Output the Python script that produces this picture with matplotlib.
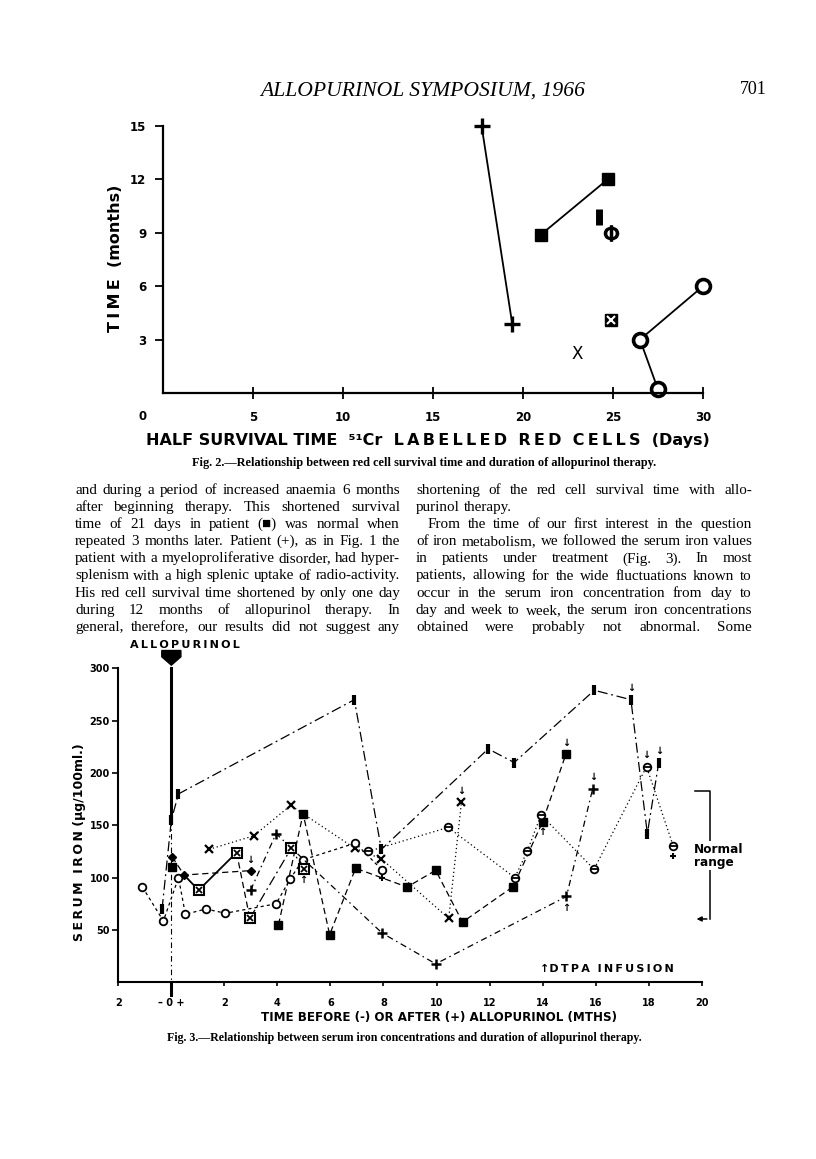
import matplotlib
matplotlib.use('Agg')
import matplotlib.pyplot as plt
from matplotlib.patches import Polygon

W, H = 816, 1159
fig = plt.figure(figsize=(W / 100, H / 100), dpi=100)
plt.rcParams['font.family'] = ['DejaVu Sans']

SERIF = 'Liberation Serif'
HEAVY = dict(family='DejaVu Sans', weight='bold')
T = '\u2009'  # thin space for letter spacing


def spaced(word):
    return T.join(word)


# ---------------- Fig. 2 data (days, months) ----------------
plus_days = [17.7, 19.4]
plus_months = [15.0, 3.9]
sq_days = [21.0, 24.7]
sq_months = [8.9, 12.0]
ring_days = [30.0, 26.5, 27.5]
ring_months = [6.0, 3.0, 0.2]
bar_day, bar_month = 24.2, 9.9
phi_day, phi_month = 24.9, 9.0
boxed_day, boxed_month = 24.9, 4.1
cross_day, cross_month = 23.0, 2.2
fig2_xticks = [5, 10, 15, 20, 25, 30]
fig2_yticks = [3, 6, 9, 12, 15]

# ---------------- Fig. 3 data (months, serum iron) ----------------
bar_x = [-0.35, 0, 0.27, 6.9, 7.92, 11.95, 12.93, 15.95, 17.33, 17.95, 18.38]
bar_y = [70, 155, 180, 270, 127, 223, 210, 279, 270, 142, 210]
sq_x = [4.04, 4.97, 5.97, 6.95, 8.89, 9.97, 10.98, 12.89, 14.0, 14.88]
sq_y = [55, 161, 45.5, 109, 91, 107, 57.5, 91.4, 153.4, 218]
cross_x = [1.42, 3.11, 4.5, 6.92, 7.92, 10.46, 10.94]
cross_y = [127, 140, 169, 128, 118, 61, 172]
ring_x = [-1.09, -0.3, 0.27, 0.53, 1.3, 2.04, 3.95, 4.48, 4.96, 6.94, 7.96]
ring_y = [91, 58.6, 100, 65, 70, 66, 75, 98.7, 117, 133, 107]
theta_x = [7.42, 10.44, 12.95, 13.42, 13.94, 15.94, 17.92, 18.93]
theta_y = [125, 148, 100, 125, 160, 108, 206, 130]
plus_x = [2.99, 3.95, 7.95, 9.97, 14.9, 15.89]
plus_y = [88, 142, 47, 17.6, 82, 185]
boxed_x = [0.48, 1.03, 2.46, 2.96, 4.52, 4.99]
boxed_y = [102.5, 88, 124, 61, 128, 108]
dia_x = [0.03, 0.48, 2.99]
dia_y = [120, 102.5, 106.7]
lone_sq = (0.03, 110)
down_x = [2.99, 10.94, 14.88, 15.89, 17.33, 17.92, 18.38]
down_y = [117, 183, 229, 196, 281, 217, 221]
up_x = [4.99, 14.0, 14.9]
up_y = [98, 144, 71]
small_plus_x = [7.96, 18.93]
small_plus_y = [100, 121]
normal_low, normal_high = 60.5, 183
fig3_xticks = [-2, 0, 2, 4, 6, 8, 10, 12, 14, 16, 18, 20]
fig3_xlabels = ['2', '\u2013 0 +', '2', '4', '6', '8', '10', '12', '14', '16', '18', '20']
fig3_yticks = [50, 100, 150, 200, 250, 300]


def box(l, t, r, b):
    return [l / W, 1 - b / H, (r - l) / W, (b - t) / H]


def fx(px):
    return px / W


def fy(py):
    return 1 - py / H


# ---------------- page header ----------------
fig.text(fx(423), fy(91), 'ALLOPURINOL SYMPOSIUM, 1966', family=SERIF, style='italic',
         fontsize=15.6, ha='center', va='center')
fig.text(fx(753), fy(90), '701', family=SERIF, fontsize=13, ha='center', va='center')

# ---------------- Fig. 2 ----------------
ax2 = fig.add_axes(box(163, 126, 703, 393))
ax2.set_xlim(0, 30)
ax2.set_ylim(0, 15)
for s in ['top', 'right']:
    ax2.spines[s].set_visible(False)
for s in ['left', 'bottom']:
    ax2.spines[s].set_linewidth(1.6)
ax2.set_xticks(fig2_xticks)
ax2.set_yticks(fig2_yticks)
ax2.tick_params(axis='x', direction='inout', length=8, width=1.3, pad=9, labelsize=8.5)
ax2.tick_params(axis='y', direction='out', length=6, width=1.3, pad=6, labelsize=8.5)
for lab in ax2.get_xticklabels() + ax2.get_yticklabels():
    lab.set_fontweight('bold')
fig.text(fx(143), fy(417), '0', fontsize=8.5, weight='bold', ha='center', va='center')

kw = dict(color='black', clip_on=False)
ax2.plot(plus_days, plus_months, lw=1.3, marker='+', ms=11, mew=2.4, **kw)
ax2.plot(sq_days, sq_months, lw=1.3, marker='s', ms=9, **kw)
ax2.plot(ring_days, ring_months, lw=1.3, marker='o', ms=10, mfc='white', mew=2.6, **kw)
ax2.plot([bar_day], [bar_month], marker='|', ms=12, mew=5, **kw)
ax2.plot([phi_day], [phi_month], marker=r'$\Phi$', ms=11, **kw)
ax2.plot([boxed_day], [boxed_month], marker='s', ms=9, **kw)
ax2.plot([boxed_day], [boxed_month], marker='x', ms=6, mew=1.5, color='white', clip_on=False)
ax2.text(cross_day, cross_month, 'X', fontsize=12, ha='center', va='center',
         family='DejaVu Sans')

fig.text(fx(116), fy(258), spaced('TIME') + '  (months)', rotation=90, fontsize=11.5,
         ha='center', va='center', **HEAVY)
fig.text(fx(428), fy(441),
         'HALF SURVIVAL TIME  \u2075\u00b9Cr  ' + '  '.join(spaced(w) for w in ['LABELLED', 'RED', 'CELLS'])
         + '  (Days)',
         fontsize=11.5, ha='center', va='center', **HEAVY)
fig.text(fx(424), fy(463),
         'Fig. 2.\u2014Relationship between red cell survival time and duration of allopurinol therapy.',
         family=SERIF, weight='bold', fontsize=8.8, ha='center', va='center')

# ---------------- body text ----------------
left_lines = [
    'and during a period of increased anaemia 6 months',
    'after beginning therapy.  This shortened survival',
    'time of 21 days in patient (\u25a0) was normal when',
    'repeated 3 months later.  Patient (+), as in Fig. 1 the',
    'patient with a myeloproliferative disorder, had hyper-',
    'splenism with a high splenic uptake of radio-activity.',
    'His red cell survival time shortened by only one day',
    'during 12 months of allopurinol therapy.  In',
    'general, therefore, our results did not suggest any',
]
right_lines = [
    'shortening of the red cell survival time with allo-',
    'purinol therapy.',
    'From the time of our first interest in the question',
    'of iron metabolism, we followed the serum iron values',
    'in patients under treatment (Fig. 3).  In most',
    'patients, allowing for the wide fluctuations known to',
    'occur in the serum iron concentration from day to',
    'day and week to week, the serum iron concentrations',
    'obtained were probably not abnormal.  Some',
]

renderer = fig.canvas.get_renderer()
BODY = 10.9


def put_line(x0, x1, y, s, justify=True):
    words = s.split()
    texts = [fig.text(0, fy(y), w, family=SERIF, fontsize=BODY, va='baseline') for w in words]
    widths = [t.get_window_extent(renderer).width for t in texts]
    gap = 3.8
    if justify and len(words) > 1:
        gap = max((x1 - x0 - sum(widths)) / (len(words) - 1), 1.5)
    x = x0
    for t, w in zip(texts, widths):
        t.set_x(fx(x))
        x += w + gap


for i, s in enumerate(left_lines):
    put_line(75, 400, 494 + 17.1 * i, s)
for i, s in enumerate(right_lines):
    if i == 1:
        put_line(416, 752, 494 + 17.1 * i, s, justify=False)
    elif i == 2:
        put_line(428, 752, 494 + 17.1 * i, s)
    else:
        put_line(416, 752, 494 + 17.1 * i, s)

# ---------------- Fig. 3 ----------------
ax3 = fig.add_axes(box(118.3, 668.3, 701.7, 982.3))
ax3.set_xlim(-2, 20)
ax3.set_ylim(0, 300)
for s in ['top', 'right']:
    ax3.spines[s].set_visible(False)
for s in ['left', 'bottom']:
    ax3.spines[s].set_linewidth(1.5)
ax3.set_xticks(fig3_xticks)
ax3.set_xticklabels(fig3_xlabels)
ax3.set_yticks(fig3_yticks)
ax3.set_yticklabels([str(v) for v in fig3_yticks])
ax3.tick_params(axis='x', direction='out', length=3, width=1.2, pad=8, labelsize=7)
ax3.tick_params(axis='y', direction='out', length=4, width=1.2, pad=2, labelsize=7)
for lab in ax3.get_xticklabels() + ax3.get_yticklabels():
    lab.set_fontweight('bold')

dashdot = (0, (8, 3, 1.5, 3))
dashdot2 = (0, (5, 3, 1.2, 3))
dotted = (0, (1, 2.2))
dashed = (0, (5, 3))
fine = (0, (2.5, 2.5))
lw = 0.9
k = dict(color='black', clip_on=False)

# allopurinol start line and arrow
ax3.plot([0, 0], [300, 155], lw=2.2, **k)
ax3.plot([0, 0], [155, 0], lw=0.8, ls=dashdot2, **k)
ax3.plot([0, 0], [0, -12], lw=2.2, **k)
ax3.add_patch(Polygon([(-0.36, 317), (0.36, 317), (0.36, 311), (0, 303), (-0.36, 311)],
                      closed=True, color='black', clip_on=False))
fig.text(fx(185), fy(645), spaced('ALLOPURINOL'), fontsize=8, ha='center', va='center', **HEAVY)

ax3.plot(bar_x, bar_y, lw=lw, ls=dashdot, marker='|', ms=7, mew=3, **k)
ax3.plot(sq_x, sq_y, lw=lw, ls=dashed, marker='s', ms=6, **k)
ax3.plot(cross_x, cross_y, lw=lw, ls=dotted, marker='x', ms=6, mew=1.6, **k)
ax3.plot(ring_x, ring_y, lw=lw, ls=fine, marker='o', ms=5.5, mfc='white', mew=1.3, **k)
ax3.plot(theta_x, theta_y, lw=lw, ls=dotted, marker='o', ms=5.5, mfc='white', mew=1.3, **k)
ax3.plot(theta_x, theta_y, ls='none', marker='_', ms=5.5, mew=1.3, **k)
ax3.plot(plus_x, plus_y, lw=lw, ls=dashdot2, marker='+', ms=7, mew=1.8, **k)
ax3.plot(boxed_x[:3], boxed_y[:3], lw=1.3, ls='-', **k)
ax3.plot(boxed_x[2:4], boxed_y[2:4], lw=lw, ls=dashed, **k)
ax3.plot(boxed_x[3:], boxed_y[3:], lw=lw, ls=dashdot, **k)
ax3.plot(boxed_x[1:], boxed_y[1:], ls='none', marker='s', ms=6.5, mfc='white', mew=1.5, **k)
ax3.plot(boxed_x[1:], boxed_y[1:], ls='none', marker='x', ms=5, mew=1.3, **k)
ax3.plot(dia_x, dia_y, lw=lw, ls=dashed, marker='D', ms=4.5, **k)
ax3.plot([lone_sq[0]], [lone_sq[1]], marker='s', ms=5.5, **k)

for x, y in zip(down_x, down_y):
    ax3.text(x, y, '\u2193', fontsize=7, weight='bold', ha='center', va='center')
for x, y in zip(up_x, up_y):
    ax3.text(x, y, '\u2191', fontsize=7, weight='bold', ha='center', va='center')
ax3.plot(small_plus_x, small_plus_y, ls='none', marker='+', ms=5, mew=1.5, **k)

# normal range bracket
ax3.plot([19.75, 20.3, 20.3], [normal_high, normal_high, normal_low], lw=1.1, **k)
ax3.annotate('', xy=(19.7, normal_low), xytext=(20.3, normal_low),
             arrowprops=dict(arrowstyle='-|>', color='black', lw=1.1, mutation_scale=7),
             annotation_clip=False)
ax3.text(19.72, 121, 'Normal\nrange', fontsize=8.7, ha='left', va='center',
         linespacing=1.0, bbox=dict(fc='white', ec='none', pad=1), **HEAVY)
ax3.text(13.9, 12.5, '\u2191' + spaced('DTPA') + '  ' + spaced('INFUSION'), fontsize=8,
         ha='left', va='center', **HEAVY)

fig.text(fx(80), fy(842), spaced('SERUM') + '  ' + spaced('IRON') + ' (\u03bcg/100ml.)',
         rotation=90, fontsize=9, ha='center', va='center', **HEAVY)
fig.text(fx(439), fy(1017), 'TIME BEFORE (-) OR AFTER (+) ALLOPURINOL (MTHS)',
         fontsize=8.6, ha='center', va='center', **HEAVY)
fig.text(fx(404), fy(1038),
         'Fig. 3.\u2014Relationship between serum iron concentrations and duration of allopurinol therapy.',
         family=SERIF, weight='bold', fontsize=8.6, ha='center', va='center')

fig.savefig('out.png', dpi=100)
